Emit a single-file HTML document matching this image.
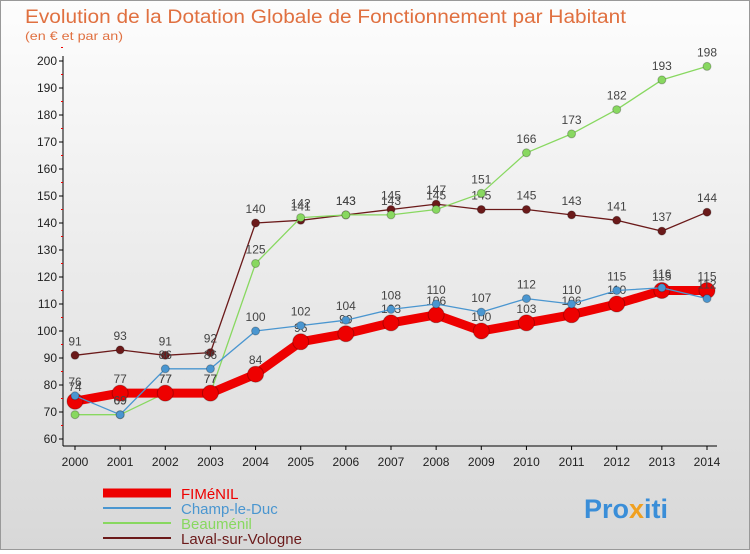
<!DOCTYPE html>
<html><head><meta charset="utf-8"><style>
body{margin:0;width:750px;height:550px;overflow:hidden;font-family:"Liberation Sans",sans-serif}
#wrap{position:relative;width:748px;height:548px;border:1px solid #999;background:linear-gradient(#fdfdfd,#d8d8d8)}
</style></head><body>
<div id="wrap">
<svg id="c" width="748" height="548" xmlns="http://www.w3.org/2000/svg">
<text x="24" y="22" font-size="19" fill="#e07040" textLength="601" lengthAdjust="spacingAndGlyphs">Evolution de la Dotation Globale de Fonctionnement par Habitant</text>
<text x="24" y="39" font-size="12" fill="#e07040" textLength="98" lengthAdjust="spacingAndGlyphs">(en € et par an)</text>
<g id="axes"></g><g id="series"></g><g id="legend"></g>
<text x="583" y="517" font-size="27" font-weight="bold" fill="#3a8ed8">Pro<tspan fill="#f0a020">x</tspan>iti</text>
</svg></div>
<script>
const years=[2000,2001,2002,2003,2004,2005,2006,2007,2008,2009,2010,2011,2012,2013,2014];
const yTicks=[60,70,80,90,100,110,120,130,140,150,160,170,180,190,200];
const fimenil=[74,77,77,77,84,96,99,103,106,100,103,106,110,115,115];
const champ=[76,69,86,86,100,102,104,108,110,107,112,110,115,116,112];
const beaumenil=[69,69,77,77,125,142,143,143,145,151,166,173,182,193,198];
const laval=[91,93,91,92,140,141,143,145,147,145,145,143,141,137,144];
const NS="http://www.w3.org/2000/svg";
const X=i=>74+i*(706-74)/14;
const Y=v=>438-(v-60)*(438-60)/140;
function mk(t,a,p){const e=document.createElementNS(NS,t);for(const k in a)e.setAttribute(k,a[k]);p.appendChild(e);return e;}
const ax=document.getElementById('axes');
const yl=mk('line',{x1:62,y1:55,x2:62,y2:445,stroke:'#000'},ax);


const xl=mk('line',{x1:62,y1:445,x2:716,y2:445,stroke:'#000'},ax);


yTicks.forEach(v=>{
 mk('line',{x1:58,y1:Y(v),x2:62,y2:Y(v),stroke:'#000'},ax);
 mk('line',{x1:60,y1:Y(v+5),x2:62,y2:Y(v+5),stroke:'#e00'},ax);
 const t=mk('text',{x:56,y:Y(v)+4,'text-anchor':'end','font-size':12,fill:'#222'},ax);t.textContent=v;
 
 
});
years.forEach((y,i)=>{
 mk('line',{x1:X(i),y1:445,x2:X(i),y2:449,stroke:'#000'},ax);
 const t=mk('text',{x:X(i),y:465,'text-anchor':'middle','font-size':12,fill:'#222'},ax);t.textContent=y;
 
 
});
const sg=document.getElementById('series');
function series(d,col,w,r,name){
 const g=mk('g',{},sg);
 
 
 mk('polyline',{points:d.map((v,i)=>X(i)+','+Y(v)).join(' '),fill:'none',stroke:col,'stroke-width':w,'stroke-linejoin':'round'},g);
 d.forEach((v,i)=>{
  const c=mk('circle',{cx:X(i),cy:Y(v),r:r,fill:col,stroke:'rgba(0,0,0,0.25)'},g);
  
  
  const t=mk('text',{x:X(i),y:Y(v)-10,'text-anchor':'middle','font-size':12,fill:'#444'},g);t.textContent=v;
  
  
 });
}
series(laval,'#6b1a1a',1.3,4,'laval-sur-vologne');
series(beaumenil,'#88d860',1.3,4,'beaumenil');
series(fimenil,'#ee0000',9,8,'fimenil');
series(champ,'#4a96d0',1.3,4,'champ-le-duc');
const lg=document.getElementById('legend');
[['FIMéNIL','#ee0000',9],['Champ-le-Duc','#4a96d0',2],['Beauménil','#88d860',2],['Laval-sur-Vologne','#6b1a1a',2]].forEach((e,i)=>{
 const y=492+i*15;
 const g=mk('g',{},lg);
 
 
 mk('line',{x1:102,y1:y,x2:170,y2:y,stroke:e[1],'stroke-width':e[2]},g);
 const t=mk('text',{x:180,y:y+6,'font-size':15,fill:e[1]},g);t.textContent=e[0];
});
</script>
</body></html>
